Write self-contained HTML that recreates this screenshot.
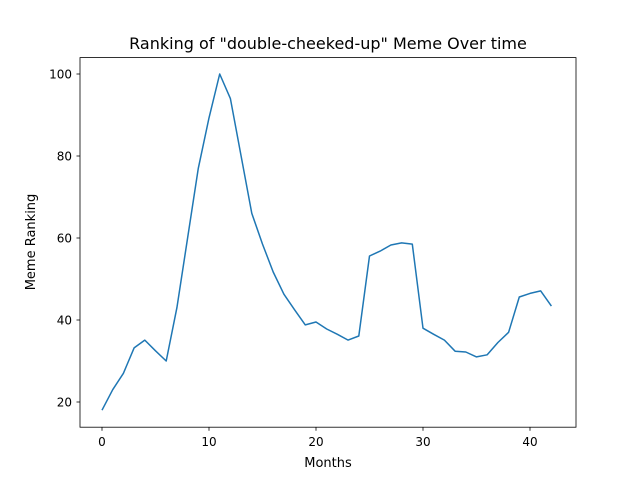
<!DOCTYPE html>
<html><head><meta charset="utf-8"><style>
body{margin:0;background:#fff;}
svg{font-family:"DejaVu Sans","Liberation Sans",sans-serif;}
</style></head><body>
<svg id="chart" width="640" height="480" viewBox="0 0 640 480">
<rect width="640" height="480" fill="#fff"/>
<text x="328" y="49" text-anchor="middle" font-size="16">Ranking of "double-cheeked-up" Meme Over time</text>
<g id="xt"></g>
<g id="yt"></g>
<path id="line" fill="none" stroke="#1f77b4" stroke-width="1.5" stroke-linejoin="round"/>
<rect x="80" y="57.6" width="496" height="369.6" fill="none" stroke="#000" stroke-width="0.8"/>
<text x="328" y="467" text-anchor="middle" font-size="13">Months</text>
<text transform="translate(35,242) rotate(-90)" text-anchor="middle" font-size="13">Meme Ranking</text>
</svg>
<script>
const months=[0,1,2,3,4,5,6,7,8,9,10,11,12,13,14,15,16,17,18,19,20,21,22,23,24,25,26,27,28,29,30,31,32,33,34,35,36,37,38,39,40,41,42];
const ranking=[18,23,27,33.2,35.1,32.5,30,43,60,77,89.3,100,94,80,66,58.5,51.7,46.3,42.5,38.8,39.5,37.8,36.5,35.1,36.1,55.6,56.8,58.3,58.8,58.5,38,36.5,35.1,32.4,32.2,31,31.5,34.5,37,45.6,46.5,47.1,43.4];
const xTicks=[0,10,20,30,40];
const yTicks=[20,40,60,80,100];
const NS="http://www.w3.org/2000/svg";
const xs=v=>102+v*10.7;
const ys=v=>74+(100-v)*4.1;
let d="";
months.forEach((m,i)=>{d+=(i?"L":"M")+xs(m).toFixed(1)+","+ys(ranking[i]).toFixed(1);});
document.getElementById("line").setAttribute("d",d);
const xt=document.getElementById("xt"),yt=document.getElementById("yt");
xTicks.forEach(t=>{
 const l=document.createElementNS(NS,"line");
 
 
 l.setAttribute("x1",xs(t));l.setAttribute("x2",xs(t));l.setAttribute("y1",427.2);l.setAttribute("y2",430.7);l.setAttribute("stroke","#000");l.setAttribute("stroke-width","0.8");
 xt.appendChild(l);
 const tx=document.createElementNS(NS,"text");
 
 
 tx.setAttribute("x",xs(t));tx.setAttribute("y",446);tx.setAttribute("text-anchor","middle");tx.setAttribute("font-size","12");
 tx.textContent=t;xt.appendChild(tx);
});
yTicks.forEach(t=>{
 const l=document.createElementNS(NS,"line");
 
 
 l.setAttribute("x1",76.5);l.setAttribute("x2",80);l.setAttribute("y1",ys(t));l.setAttribute("y2",ys(t));l.setAttribute("stroke","#000");l.setAttribute("stroke-width","0.8");
 yt.appendChild(l);
 const tx=document.createElementNS(NS,"text");
 
 
 tx.setAttribute("x",72);tx.setAttribute("y",ys(t)+4.5);tx.setAttribute("text-anchor","end");tx.setAttribute("font-size","12");
 tx.textContent=t;yt.appendChild(tx);
});
</script>
</body></html>
